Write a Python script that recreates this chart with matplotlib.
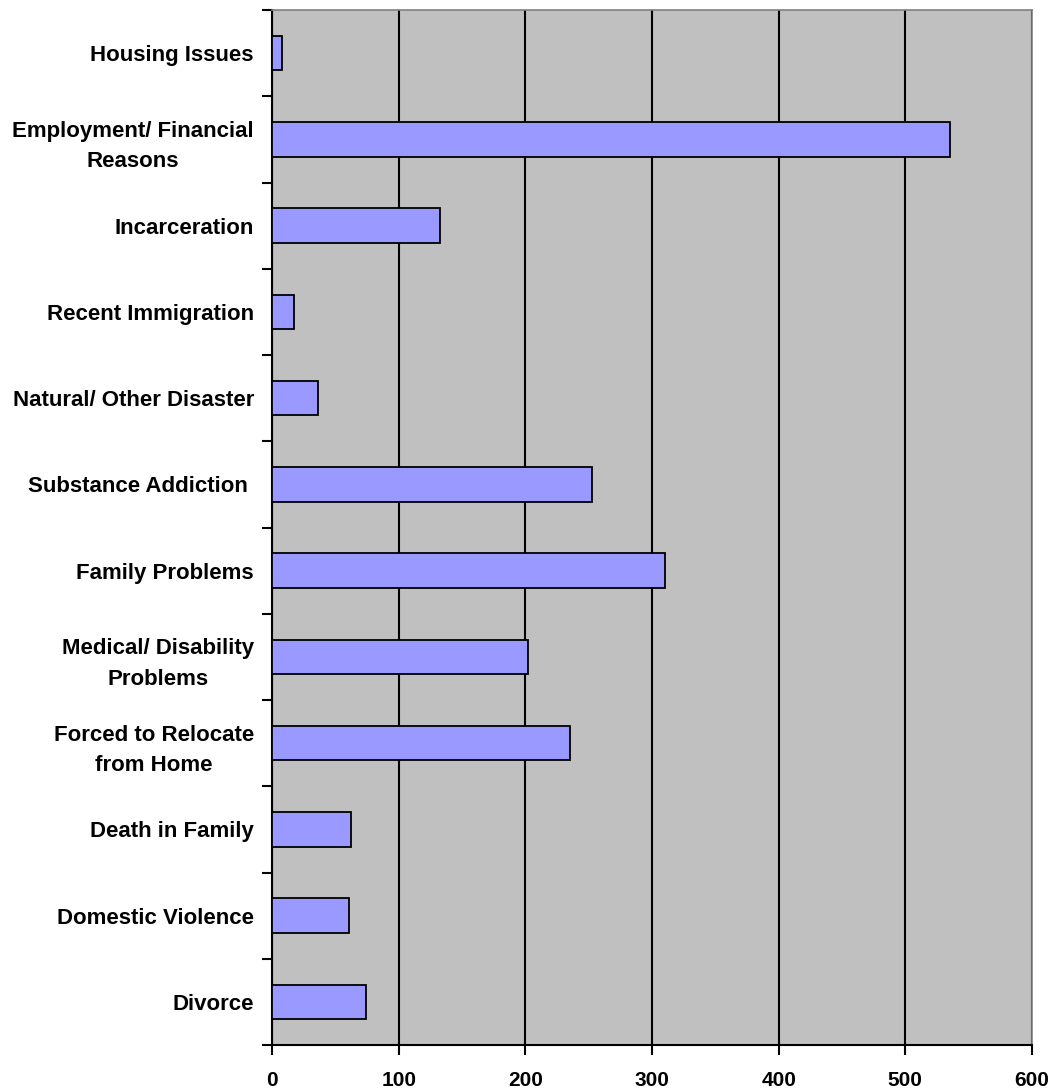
import matplotlib
matplotlib.use("Agg")
import matplotlib.pyplot as plt
import numpy as np

# categories, top to bottom as in the chart
categories = ["Housing Issues", "Employment/ Financial\nReasons", "Incarceration",
              "Recent Immigration", "Natural/ Other Disaster", "Substance Addiction ",
              "Family Problems", "Medical/ Disability\nProblems", "Forced to Relocate\nfrom Home",
              "Death in Family", "Domestic Violence", "Divorce"]
counts = [8, 535, 133, 17, 36, 253, 310, 202, 235, 62, 61, 74]
xticks = [0, 100, 200, 300, 400, 500, 600]

plt.rcParams['font.family'] = ['Liberation Sans', 'DejaVu Sans']

fig = plt.figure(figsize=(10.53, 10.90), dpi=100)
ax = fig.add_axes([272/1053, 45/1090, 760/1053, 1035/1090])

n = len(categories)
ypos = np.arange(n)
ax.barh(ypos, counts, height=0.4, color="#9999FF", edgecolor="black", linewidth=1.3, zorder=3)

ax.set_facecolor("#C0C0C0")
ax.set_xlim(0, 600)
ax.set_ylim(n - 0.5, -0.5)

# vertical gridlines
ax.set_xticks(xticks)
ax.set_xticklabels([str(v) for v in xticks], fontsize=15, fontweight="bold")
ax.grid(axis="x", color="black", linewidth=1.5, zorder=1)

# y labels at bar centres, ticks at category boundaries
ax.set_yticks(ypos)
ax.set_yticklabels(categories, fontsize=16, fontweight="bold",
                   multialignment="center", linespacing=1.6)
ax.tick_params(axis="y", which="major", length=0, pad=13)
ax.set_yticks(np.arange(-0.5, n, 1.0), minor=True)
ax.tick_params(axis="y", which="minor", length=7, width=1.5, direction="out")
ax.tick_params(axis="x", length=7, width=1.5, direction="out", pad=12)

for s in ["left", "bottom"]:
    ax.spines[s].set_color("black")
    ax.spines[s].set_linewidth(1.5)
for s in ["top", "right"]:
    ax.spines[s].set_color("#808080")
    ax.spines[s].set_linewidth(1.2)

plt.savefig("out.png", dpi=100)
